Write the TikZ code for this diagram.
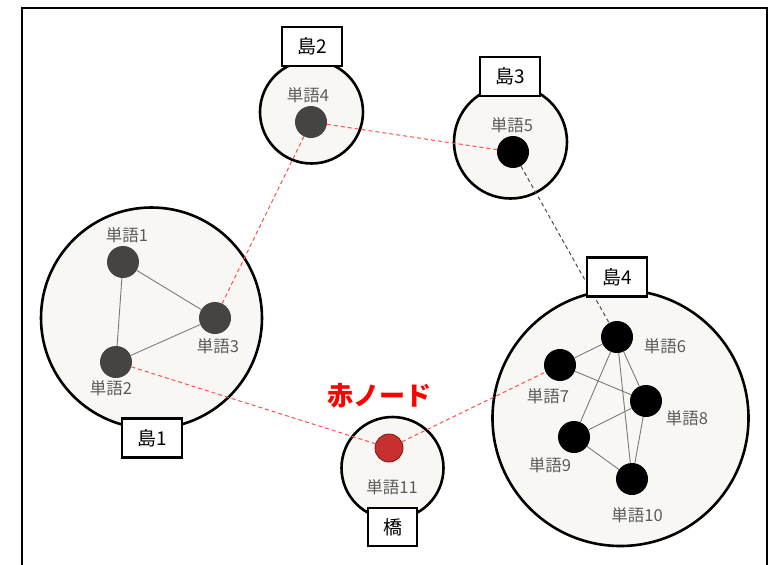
\documentclass[tikz,border=0pt]{standalone}
\usepackage{fontspec}
\setmainfont{Noto Sans CJK JP}
\definecolor{islefill}{HTML}{F8F7F3}
\definecolor{darknode}{HTML}{464440}
\definecolor{labgray}{HTML}{5A5A5A}
\definecolor{linkgray}{HTML}{7A7A7A}
\definecolor{dashred}{HTML}{FF4D4D}
\definecolor{rednode}{HTML}{C8302F}
\definecolor{redrim}{HTML}{7A1515}
\begin{document}
\begin{tikzpicture}[x=1pt,y=-1pt,
 isle/.style={circle,draw=black,line width=2.6pt,fill=islefill,minimum size=#1,inner sep=0pt},
 tag/.style={draw=black,line width=2.6pt,fill=white,minimum width=60pt,minimum height=39pt,inner sep=0pt,font=\fontsize{19}{19}\selectfont},
 word/.style={circle,fill=#1,minimum size=32pt,inner sep=0pt},
 wlab/.style={text=labgray,font=\fontsize{16.5}{16.5}\selectfont,inner sep=0pt},
 link/.style={draw=linkgray,line width=0.9pt},
 rdash/.style={draw=dashred,line width=1pt,dash pattern=on 4pt off 3pt},
 kdash/.style={draw=black!70,line width=1pt,dash pattern=on 4pt off 3pt}]
\useasboundingbox (0,0) rectangle (774,565);
\clip (0,0) rectangle (774,565);
\fill[white] (0,0) rectangle (774,565);
\draw[line width=2.6pt] (22,8) rectangle (767,600);

% islands
\node[isle=221pt] (i1) at (151.5,318) {};
\node[isle=103pt] (i2) at (311.5,112) {};
\node[isle=113pt] (i3) at (510.5,142) {};
\node[isle=256pt] (i4) at (620.5,418) {};
\node[isle=102pt] (ib) at (392.5,468) {};

% words
\node[word=darknode] (w1) at (123,262) {};
\node[word=darknode] (w2) at (116,362) {};
\node[word=darknode] (w3) at (215,318) {};
\node[word=darknode] (w4) at (311,122) {};
\node[word=black] (w5) at (513,152) {};
\node[word=black] (w6) at (617,337) {};
\node[word=black] (w7) at (560,365) {};
\node[word=black] (w8) at (646,401) {};
\node[word=black] (w9) at (574,437) {};
\node[word=black] (w10) at (632,479) {};
\node[circle,fill=rednode,draw=redrim,line width=0.8pt,minimum size=28pt,inner sep=0pt] (w11) at (389,448) {};

% links inside islands
\draw[link] (w1) -- (w2);
\draw[link] (w1) -- (w3);
\draw[link] (w2) -- (w3);
\draw[link] (w6) -- (w7);
\draw[link] (w6) -- (w8);
\draw[link] (w6) -- (w9);
\draw[link] (w6) -- (w10);
\draw[link] (w7) -- (w8);
\draw[link] (w9) -- (w8);
\draw[link] (w9) -- (w10);
\draw[link] (w8) -- (w10);

% bridges between islands
\draw[rdash] (w3) -- (w4);
\draw[rdash] (w4) -- (w5);
\draw[rdash] (w2) -- (w11);
\draw[rdash] (w11) -- (w7);
\draw[kdash] (w5) -- (w6);

% island tags
\node[tag] (t1) at (152,438) {島1};
\node[tag] (t2) at (312,46.5) {島2};
\node[tag] (t3) at (510,76.5) {島3};
\node[tag] (t4) at (617,277) {島4};
\node[tag,minimum width=49pt,minimum height=38pt] (tb) at (392.5,527) {橋};

% word labels
\node[wlab] (l1) at (127,235) {単語1};
\node[wlab] (l2) at (111,388) {単語2};
\node[wlab] (l3) at (218,346) {単語3};
\node[wlab] (l4) at (308,95) {単語4};
\node[wlab] (l5) at (512,125) {単語5};
\node[wlab] (l6) at (665,346) {単語6};
\node[wlab] (l7) at (548,396) {単語7};
\node[wlab] (l8) at (687,418) {単語8};
\node[wlab] (l9) at (550,465) {単語9};
\node[wlab] (l10) at (637,515) {単語10};
\node[wlab] (l11) at (392,487) {単語11};

\node[text=red,font=\fontsize{26}{26}\selectfont\bfseries,inner sep=0pt] (red) at (379,396) {赤ノード};
\end{tikzpicture}
\end{document}
